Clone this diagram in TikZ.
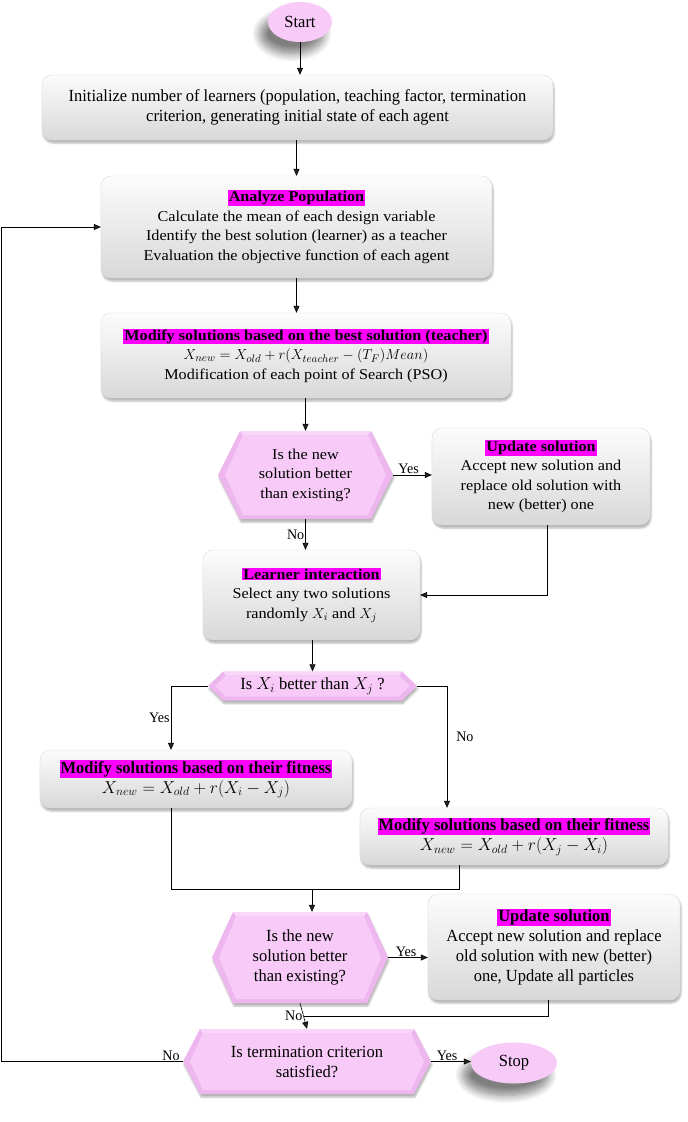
\documentclass[tikz,border=0pt]{standalone}
\usepackage{fontspec}
\setmainfont{Liberation Serif}
\newfontfamily\regfont[FakeStretch=1.08]{Liberation Serif}
\newfontfamily\condfont[FakeStretch=0.97]{Liberation Serif}
\usetikzlibrary{shapes.geometric,shadows,shadows.blur,calc,arrows.meta}
\definecolor{hlmag}{RGB}{255,0,255}
\definecolor{pinkA}{RGB}{247,202,247}
\definecolor{pinkB}{RGB}{238,182,238}
\definecolor{pinkC}{RGB}{250,214,250}
\definecolor{boxtop}{RGB}{252,252,252}
\definecolor{boxbot}{RGB}{216,216,216}
\newcommand\hl[1]{{\setlength\fboxsep{1pt}\colorbox{hlmag}{\textbf{#1}}}}
\newcommand\reg{\regfont\fontsize{15}{19.5}\selectfont}
\newcommand\cnd{\condfont\fontsize{17}{20}\selectfont}
% hexagon decision: name, cx, cy, w, h, chamfer, font, text
\newcommand\hexdec[8]{%
  \fill[pinkB, blur shadow={shadow xshift=1pt, shadow yshift=-3pt, shadow opacity=30, shadow blur steps=5}]
    ({#2-#4/2+#6},{#3-#5/2}) -- ({#2+#4/2-#6},{#3-#5/2}) -- ({#2+#4/2},{#3})
    -- ({#2+#4/2-#6},{#3+#5/2}) -- ({#2-#4/2+#6},{#3+#5/2}) -- ({#2-#4/2},{#3}) -- cycle;
  \fill[pinkC]
    ({#2-#4/2+#6},{#3-#5/2}) -- ({#2+#4/2-#6},{#3-#5/2}) -- ({#2+#4/2-#6-3},{#3-#5/2+4})
    -- ({#2-#4/2+#6+3},{#3-#5/2+4}) -- cycle;
  \fill[pinkA]
    ({#2-#4/2+#6+3},{#3-#5/2+4}) -- ({#2+#4/2-#6-3},{#3-#5/2+4}) -- ({#2+#4/2-7},{#3})
    -- ({#2+#4/2-#6-3},{#3+#5/2-4}) -- ({#2-#4/2+#6+3},{#3+#5/2-4}) -- ({#2-#4/2+7},{#3}) -- cycle;
  \node[dec, minimum width=#4pt, minimum height=#5pt, font=#7] (#1) at (#2,#3) {#8};}
\begin{document}
\begin{tikzpicture}[x=1pt,y=-1pt,
  box/.style={rounded corners=10pt, top color=boxtop, bottom color=boxbot, draw=gray!30, line width=0.4pt,
    align=center, inner sep=2pt,
    blur shadow={shadow xshift=1pt, shadow yshift=-3pt, shadow opacity=30, shadow blur steps=5}},
  dec/.style={rectangle, align=center, inner sep=0pt},
  term/.style={ellipse, fill=pinkA, inner sep=0pt,
    blur shadow={shadow xshift=-8pt, shadow yshift=-12pt, shadow opacity=50, shadow blur radius=8pt, shadow blur steps=10}},
  arr/.style={-{Triangle[length=7pt,width=6pt]}, line width=0.6pt},
  ln/.style={line width=0.6pt},
  lab/.style={font=\condfont\fontsize{14.5}{16}\selectfont, inner sep=1pt}]
\useasboundingbox (0,0) rectangle (688,1122);

\node[term, minimum width=64pt, minimum height=40pt, font=\cnd] (start) at (300,22) {Start};
\node[box, minimum width=511pt, minimum height=65pt, font=\cnd] (init) at (297.5,107.5)
  {Initialize number of learners (population, teaching factor, termination\\criterion, generating initial state of each agent};
\node[box, minimum width=391pt, minimum height=102pt, font=\reg] (analyze) at (296.5,227)
  {\hl{Analyze Population}\\Calculate the mean of each design variable\\Identify the best solution (learner) as a teacher\\Evaluation the objective function of each agent};
\node[box, minimum width=410pt, minimum height=85pt, font=\reg] (teach) at (306,355.5)
  {\hl{Modify solutions based on the best solution (teacher)}\\$X_{new}=X_{old}+r(X_{teacher}-(T_F)Mean)$\\Modification of each point of Search (PSO)};
\hexdec{dec1}{305.5}{475}{175}{88}{22}{\reg}{Is the new\\solution better\\than existing?}
\node[box, minimum width=218pt, minimum height=97pt, font=\reg] (upd1) at (541,476.5)
  {\hl{Update solution}\\Accept new solution and\\replace old solution with\\new (better) one};
\node[box, minimum width=217pt, minimum height=90pt, font=\reg] (learn) at (311.5,595)
  {\hl{Learner interaction}\\Select any two solutions\\randomly $X_i$ and $X_j$};
\hexdec{decx}{312.5}{686}{209}{29}{15}{\cnd}{Is $X_i$ better than $X_j$ ?}
\node[box, minimum width=312pt, minimum height=58pt, font=\cnd] (modL) at (196,779)
  {\hl{Modify solutions based on their fitness}\\$X_{new}=X_{old}+r(X_i-X_j)$};
\node[box, minimum width=308pt, minimum height=57pt, font=\cnd] (modR) at (514,836.5)
  {\hl{Modify solutions based on their fitness}\\$X_{new}=X_{old}+r(X_j-X_i)$};
\hexdec{dec2}{300}{957.5}{176}{91}{21}{\cnd}{Is the new\\solution better\\than existing?}
\node[box, minimum width=252pt, minimum height=106pt, font=\cnd] (upd2) at (554,947)
  {\hl{Update solution}\\Accept new solution and replace\\old solution with new (better)\\one, Update all particles};
\hexdec{termq}{307}{1061.5}{248}{65}{17}{\cnd}{Is termination criterion\\satisfied?}
\node[term, minimum width=86pt, minimum height=41pt, font=\cnd] (stop) at (514,1063) {Stop};

% connectors
\draw[arr] (start) -- (start |- init.north);
\draw[arr] (init.south -| analyze) -- (analyze.north);
\draw[arr] (analyze) -- (analyze |- teach.north);
\draw[arr] (dec1.north |- teach.south) -- (dec1.north);
\draw[arr] (dec1.east) -- (dec1.east -| upd1.west) node[lab, pos=0.4, above] {Yes};
\draw[arr] (dec1.south) -- (dec1.south |- learn.north) node[lab, midway, left] {No};
\draw[arr] ([xshift=6pt]upd1.south) |- (learn.east);
\draw[arr] (learn.south -| decx) -- (decx.north);
\coordinate (xl) at (171,0);
\coordinate (xr) at (447,0);
\coordinate (xr2) at (459,0);
\coordinate (j1) at (312,889);
\draw[arr] (decx.west) -| (xl |- modL.north) node[lab, pos=0.75, left] {Yes};
\draw[arr] (decx.east) -| (xr |- modR.north) node[lab, pos=0.71, right, xshift=8pt] {No};
\draw[ln] (xl |- modL.south) |- (xr2 |- j1) -- (xr2 |- modR.south);
\draw[arr] (j1) -- (j1 |- dec2.north);
\draw[arr] (dec2.east) -- (dec2.east -| upd2.west) node[lab, pos=0.45, above] {Yes};
\coordinate (j2) at ($(dec2.south)!0.5!(termq.north)$);
\draw[arr] (dec2.south) -- (termq.north);
\node[lab, left] at (j2) {No};
\draw[ln] ([xshift=-6pt]upd2.south) |- (j2);
\coordinate (lp) at (1,0);
\draw[arr] (termq.west) -- (termq.west -| lp) |- (analyze.west);
\node[lab, above left, xshift=-2pt] at (termq.west) {No};
\draw[arr] (termq.east) -- (termq.east -| stop.west) node[lab, pos=0.4, above] {Yes};
\end{tikzpicture}
\end{document}
